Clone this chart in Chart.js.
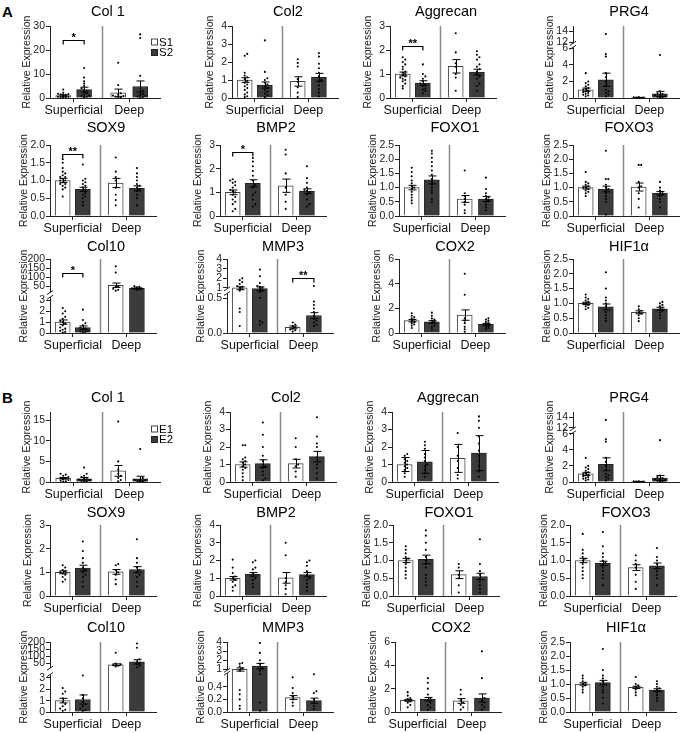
<!DOCTYPE html>
<html>
<head>
<meta charset="utf-8">
<script src="https://cdn.jsdelivr.net/npm/chart.js@4.4.1/dist/chart.umd.min.js"></script>
<style>
  body { margin: 0; background: #fff; }
  #wrap { position: relative; width: 685px; height: 733px; overflow: hidden; font-family: "Liberation Sans", Arial, sans-serif; }
  #wrap canvas { position: absolute; }
  .tag { position: absolute; font-weight: bold; font-size: 15px; color: #000; }
</style>
</head>
<body>
<div id="wrap">
  <div class="tag" style="left:2px;top:3px">A</div>
  <div class="tag" style="left:2px;top:389px">B</div>
</div>
<script>
// ---- data ----
const genes = ['Col 1', 'Col2', 'Aggrecan', 'PRG4', 'SOX9', 'BMP2', 'FOXO1', 'FOXO3', 'Col10', 'MMP3', 'COX2', 'HIF1α'];
const zones = ['Superficial', 'Deep'];
const seriesA = ['S1', 'S2'];
const seriesB = ['E1', 'E2'];

// y tick labels per panel
const ticksA = [
  ['0', '10', '20', '30'], ['0', '1', '2', '3', '4'], ['0', '1', '2', '3'], ['0', '2', '4', '6', '12', '14'],
  ['0.0', '0.5', '1.0', '1.5', '2.0'], ['0', '1', '2', '3'], ['0.0', '0.5', '1.0', '1.5', '2.0', '2.5'], ['0.0', '0.5', '1.0', '1.5', '2.0', '2.5'],
  ['0', '1', '2', '3', '50', '100', '150', '200'], ['0.0', '0.5', '1', '2', '3', '4'], ['0', '2', '4', '6'], ['0.0', '0.5', '1.0', '1.5', '2.0', '2.5']
];
const ticksB = [
  ['0', '5', '10', '15'], ['0', '1', '2', '3', '4'], ['0', '1', '2', '3', '4'], ['0', '2', '4', '6', '12', '14'],
  ['0', '1', '2', '3'], ['0', '1', '2', '3', '4'], ['0.0', '0.5', '1.0', '1.5', '2.0'], ['0.0', '0.5', '1.0', '1.5', '2.0'],
  ['0', '1', '2', '3', '50', '100', '150', '200'], ['0.0', '0.2', '0.4', '1', '2', '3', '4'], ['0', '2', '4', '6'], ['0.0', '0.5', '1.0', '1.5', '2.0', '2.5']
];
const yTopA = [30, 4, 3, 15, 2, 3, 2.5, 2.5, 200, 4, 6, 2.5];
const yTopB = [17, 4, 4, 15, 3, 4, 2, 2, 200, 4, 6, 2.5];

// broken axes: [from, to, fracFrom, fracTo] per segment
const breaksA = {
  3: [[0, 6, 0, 0.69], [12, 15, 0.775, 1]],
  8: [[0, 3.2, 0, 0.47], [20, 200, 0.56, 1]],
  9: [[0, 0.55, 0, 0.52], [1, 4, 0.61, 1]]
};
const breaksB = {
  3: [[0, 6, 0, 0.69], [12, 15, 0.775, 1]],
  8: [[0, 3.2, 0, 0.52], [25, 200, 0.64, 1]],
  9: [[0, 0.6, 0, 0.54], [1, 4, 0.61, 1]]
};

// bar means (S1 sup, S2 sup, S1 deep, S2 deep)
const meansA = [
  [1.0, 3.5, 2.2, 4.8], [1.0, 0.72, 0.92, 1.15], [1.0, 0.62, 1.32, 1.08], [1.0, 2.2, 0.05, 0.5],
  [1.0, 0.75, 0.93, 0.78], [1.0, 1.38, 1.28, 1.05], [1.0, 1.27, 0.6, 0.6], [1.0, 0.95, 1.02, 0.8],
  [1.0, 0.5, 55, 38], [1.0, 0.95, 0.08, 0.25], [1.0, 0.9, 1.45, 0.7], [1.0, 0.88, 0.7, 0.82]
];
const errA = [
  [0.3, 1.0, 1.5, 2.3], [0.13, 0.17, 0.26, 0.22], [0.08, 0.1, 0.28, 0.12], [0.2, 0.8, 0.02, 0.3],
  [0.06, 0.06, 0.13, 0.07], [0.1, 0.15, 0.28, 0.1], [0.08, 0.14, 0.12, 0.09], [0.05, 0.1, 0.14, 0.06],
  [0.2, 0.15, 12, 3], [0.12, 0.15, 0.02, 0.04], [0.1, 0.1, 0.42, 0.08], [0.04, 0.1, 0.05, 0.05]
];
const pointsA = [
  [[0.2, 0.3, 0.4, 0.5, 0.5, 0.6, 0.7, 0.8, 0.8, 0.9, 1.0, 1.1, 1.2, 1.3, 1.5, 1.6, 1.8, 2.2, 3.5],
   [0.3, 0.5, 0.8, 1.0, 1.5, 2.0, 2.5, 3.0, 3.5, 4.0, 5.0, 6.0, 7.0, 8.5, 12.5],
   [0.1, 0.3, 0.5, 0.8, 1.0, 1.5, 2.0, 5.4, 14.7],
   [0.2, 0.4, 0.6, 0.9, 1.2, 1.6, 2.2, 3.0, 9.3, 25, 26.5]],
  [[0.05, 0.1, 0.2, 0.3, 0.45, 0.55, 0.65, 0.75, 0.85, 0.95, 1.05, 1.15, 1.25, 1.4, 2.35, 2.45],
   [0.05, 0.15, 0.25, 0.35, 0.45, 0.55, 0.65, 0.75, 0.85, 1.0, 1.1, 1.45, 3.2],
   [0.05, 0.3, 0.6, 0.9, 1.05, 1.75, 1.95, 2.15],
   [0.1, 0.3, 0.5, 0.7, 0.9, 1.0, 1.2, 1.4, 1.65, 1.9, 2.3, 2.5]],
  [[0.4, 0.5, 0.6, 0.7, 0.75, 0.8, 0.85, 0.9, 0.95, 1.0, 1.05, 1.1, 1.2, 1.3, 1.4, 1.5, 1.6, 1.7],
   [0.2, 0.3, 0.35, 0.4, 0.5, 0.55, 0.6, 0.7, 0.8, 0.9, 1.0, 1.4],
   [0.3, 0.85, 1.0, 1.3, 1.45, 1.9, 2.7],
   [0.3, 0.5, 0.6, 0.8, 0.9, 1.0, 1.1, 1.2, 1.3, 1.4, 1.6, 1.7, 1.8, 1.95]],
  [[0.2, 0.3, 0.4, 0.5, 0.6, 0.7, 0.8, 0.9, 1.0, 1.1, 1.2, 1.4, 1.6, 1.8, 2.0, 3.0],
   [0.2, 0.4, 0.6, 0.8, 1.0, 1.5, 2.0, 2.5, 3.0, 5.0, 5.3, 13.5],
   [0.02, 0.03, 0.05, 0.05, 0.08, 0.1],
   [0.05, 0.1, 0.15, 0.2, 0.3, 0.4, 0.5, 0.6, 0.8, 5.2]],
  [[0.55, 0.75, 0.8, 0.85, 0.9, 0.9, 0.95, 1.0, 1.0, 1.05, 1.1, 1.1, 1.15, 1.2, 1.25, 1.35, 1.5, 1.6],
   [0.3, 0.4, 0.5, 0.55, 0.6, 0.65, 0.7, 0.75, 0.8, 0.85, 0.9, 0.95, 1.0, 1.05, 1.45],
   [0.3, 0.45, 0.6, 0.8, 1.0, 1.1, 1.25, 1.65],
   [0.3, 0.5, 0.6, 0.7, 0.75, 0.8, 0.85, 0.9, 1.0, 1.1, 1.2, 1.35]],
  [[0.2, 0.3, 0.5, 0.6, 0.7, 0.8, 0.9, 1.0, 1.05, 1.1, 1.2, 1.3, 1.4, 1.45, 1.5, 1.55],
   [0.4, 0.5, 0.7, 0.9, 1.0, 1.2, 1.3, 1.5, 1.7, 1.9, 2.1, 2.3, 2.45],
   [0.3, 0.6, 0.9, 1.2, 1.8, 2.6, 2.8],
   [0.4, 0.5, 0.7, 0.9, 1.0, 1.05, 1.1, 1.2, 1.4, 1.6, 2.1]],
  [[0.45, 0.55, 0.65, 0.75, 0.85, 0.95, 1.0, 1.05, 1.15, 1.25, 1.4, 1.55, 1.7],
   [0.5, 0.6, 0.8, 0.9, 1.0, 1.1, 1.2, 1.3, 1.45, 1.6, 1.75, 1.9, 2.05, 2.2, 2.3],
   [0.1, 0.2, 0.4, 0.5, 0.6, 0.7, 0.8, 1.6],
   [0.2, 0.3, 0.4, 0.5, 0.55, 0.6, 0.65, 0.7, 0.8, 0.95, 1.35]],
  [[0.7, 0.8, 0.85, 0.9, 0.95, 1.0, 1.0, 1.05, 1.1, 1.15, 1.2, 1.55],
   [0.05, 0.5, 0.6, 0.7, 0.8, 0.9, 0.95, 1.0, 1.1, 1.3, 1.3, 2.3],
   [0.3, 0.6, 0.8, 1.0, 1.05, 1.2, 1.8, 1.8],
   [0.3, 0.5, 0.6, 0.7, 0.75, 0.8, 0.85, 0.9, 1.0, 1.2]],
  [[0.05, 0.1, 0.2, 0.3, 0.4, 0.5, 0.7, 0.9, 1.0, 1.1, 1.3, 1.5, 1.8, 2.0, 2.3],
   [0.05, 0.1, 0.15, 0.2, 0.3, 0.4, 0.5, 0.7, 0.9, 1.2, 2.15],
   [25, 30, 35, 45, 50, 125, 160],
   [30, 32, 34, 36, 38, 40, 42, 44, 46, 50]],
  [[0.1, 0.3, 0.35, 0.8, 0.9, 1.0, 1.1, 1.2, 1.4, 1.6, 1.8, 2.0],
   [0.12, 0.15, 0.17, 0.5, 0.7, 0.8, 0.9, 1.0, 1.1, 1.2, 1.5, 2.2, 2.9],
   [0.02, 0.04, 0.05, 0.06, 0.08, 0.1, 0.12, 0.15],
   [0.1, 0.12, 0.15, 0.18, 0.2, 0.25, 0.3, 0.35, 0.4, 0.45, 1.2]],
  [[0.4, 0.6, 0.7, 0.8, 0.9, 1.0, 1.1, 1.2, 1.3, 1.4, 1.6],
   [0.3, 0.5, 0.6, 0.8, 0.9, 1.0, 1.1, 1.2, 1.4, 1.65],
   [0.1, 0.3, 0.5, 0.8, 1.0, 1.2, 3.1, 4.8],
   [0.3, 0.4, 0.5, 0.6, 0.7, 0.8, 0.9, 1.0, 1.1, 1.2]],
  [[0.8, 0.85, 0.9, 0.95, 1.0, 1.0, 1.05, 1.1, 1.15, 1.2, 1.3],
   [0.4, 0.5, 0.6, 0.7, 0.8, 0.9, 1.0, 1.1, 1.2, 1.5, 2.05],
   [0.4, 0.5, 0.6, 0.65, 0.7, 0.75, 0.8, 0.9],
   [0.5, 0.6, 0.7, 0.75, 0.8, 0.85, 0.9, 0.95, 1.0, 1.05]]
];

const meansB = [
  [0.9, 0.8, 2.7, 0.8], [1.0, 1.05, 1.05, 1.45], [1.0, 1.15, 1.35, 1.65], [1.0, 2.2, 0.05, 0.5],
  [1.0, 1.18, 1.02, 1.12], [1.0, 1.22, 1.02, 1.2], [1.0, 1.03, 0.6, 0.55], [1.0, 0.92, 0.8, 0.85],
  [1.0, 1.1, 42, 62], [1.0, 1.35, 0.23, 0.18], [1.0, 1.1, 0.95, 1.2], [1.0, 1.05, 0.88, 0.78]
];
const errB = [
  [0.2, 0.3, 1.3, 0.6], [0.15, 0.22, 0.25, 0.3], [0.4, 0.65, 0.8, 1.0], [0.2, 0.8, 0.02, 0.3],
  [0.06, 0.12, 0.1, 0.12], [0.1, 0.1, 0.3, 0.12], [0.06, 0.12, 0.11, 0.09], [0.06, 0.06, 0.08, 0.08],
  [0.2, 0.4, 6, 15], [0.15, 0.3, 0.03, 0.04], [0.08, 0.15, 0.2, 0.35], [0.04, 0.08, 0.04, 0.05]
];
const pointsB = [
  [[0.1, 0.2, 0.3, 0.5, 0.7, 0.9, 1.0, 1.2, 1.5, 1.8, 2.0],
   [0.1, 0.2, 0.3, 0.5, 0.6, 0.8, 1.0, 1.2, 1.5, 2.0, 3.5],
   [0.2, 0.5, 1.0, 1.5, 2.0, 3.0, 5.0, 14.7],
   [0.1, 0.2, 0.3, 0.4, 0.5, 0.6, 1.0, 8.0]],
  [[0.1, 0.3, 0.5, 0.7, 0.8, 0.9, 1.0, 1.1, 1.2, 1.3, 1.4, 2.1, 2.1],
   [0.1, 0.2, 0.4, 0.6, 0.8, 0.9, 1.0, 1.2, 1.5, 2.0, 2.7, 3.4],
   [0.3, 0.6, 0.9, 1.0, 1.3, 2.0, 2.5],
   [0.2, 0.5, 0.8, 1.0, 1.4, 2.0, 2.2, 2.6, 3.7]],
  [[0.3, 0.5, 0.7, 0.8, 0.9, 1.0, 1.1, 1.2, 1.3, 1.5, 1.6],
   [0.3, 0.5, 0.7, 0.9, 1.0, 1.2, 1.4, 1.6, 1.9, 2.1, 2.3],
   [0.2, 0.4, 0.8, 1.2, 1.5, 2.0, 2.8],
   [0.3, 0.6, 0.9, 1.2, 1.5, 1.8, 2.2, 2.6, 3.1, 3.5, 3.75]],
  [[0.2, 0.3, 0.4, 0.5, 0.6, 0.7, 0.8, 0.9, 1.0, 1.1, 1.2, 1.4, 1.6, 1.8, 2.0, 3.0],
   [0.2, 0.4, 0.6, 0.8, 1.0, 1.5, 2.0, 2.5, 3.0, 5.0, 5.3, 13.5],
   [0.02, 0.03, 0.05, 0.05, 0.08, 0.1],
   [0.05, 0.1, 0.15, 0.2, 0.3, 0.4, 0.5, 0.6, 0.8, 5.2]],
  [[0.6, 0.7, 0.8, 0.9, 0.95, 1.0, 1.05, 1.1, 1.2, 1.3],
   [0.4, 0.6, 0.8, 0.9, 1.0, 1.1, 1.2, 1.4, 1.6, 1.9, 2.3],
   [0.5, 0.7, 0.9, 1.0, 1.1, 1.3, 1.35],
   [0.4, 0.6, 0.8, 0.9, 1.0, 1.1, 1.2, 1.4, 1.6, 2.4]],
  [[0.3, 0.5, 0.6, 0.8, 0.9, 1.0, 1.1, 1.3, 1.6, 2.05],
   [0.5, 0.7, 0.9, 1.0, 1.1, 1.3, 1.5, 1.6, 1.9, 2.0],
   [0.1, 0.4, 0.6, 0.8, 1.0, 2.3, 3.0],
   [0.3, 0.5, 0.7, 0.9, 1.0, 1.2, 1.4, 1.7, 1.9, 2.0]],
  [[0.5, 0.6, 0.7, 0.8, 0.9, 1.0, 1.05, 1.1, 1.2, 1.3, 1.4],
   [0.3, 0.4, 0.5, 0.6, 0.8, 0.9, 1.0, 1.1, 1.3, 1.5, 1.7, 1.85],
   [0.1, 0.3, 0.5, 0.6, 0.8, 0.9],
   [0.1, 0.2, 0.3, 0.4, 0.5, 0.6, 0.7, 0.9, 1.6]],
  [[0.5, 0.6, 0.7, 0.8, 0.9, 1.0, 1.05, 1.1, 1.2, 1.3, 1.75],
   [0.3, 0.5, 0.6, 0.7, 0.8, 0.9, 0.95, 1.0, 1.1, 1.2, 1.4, 1.8],
   [0.2, 0.4, 0.6, 0.8, 0.9, 1.0, 1.15],
   [0.3, 0.5, 0.6, 0.7, 0.8, 0.9, 1.0, 1.1, 1.35]],
  [[0.1, 0.2, 0.3, 0.5, 0.7, 0.9, 1.2, 1.6, 1.8, 2.1],
   [0.1, 0.2, 0.3, 0.5, 0.7, 0.9, 1.2, 1.5, 3.4],
   [30, 35, 40, 45, 50, 125],
   [25, 35, 45, 55, 65, 80, 160, 190]],
  [[0.05, 0.1, 0.2, 0.28, 0.35, 0.9, 1.1, 1.3, 1.6, 1.7],
   [0.02, 0.15, 0.6, 0.9, 1.1, 1.3, 1.6, 2.0, 2.8, 3.9],
   [0.1, 0.15, 0.2, 0.25, 0.3, 0.38, 0.55],
   [0.05, 0.1, 0.15, 0.2, 0.3, 0.33, 0.6]],
  [[0.4, 0.6, 0.8, 0.9, 1.0, 1.1, 1.2, 1.4, 1.7],
   [0.2, 0.4, 0.6, 0.8, 1.0, 1.2, 1.5, 2.0, 2.5, 2.9],
   [0.2, 0.4, 0.6, 0.8, 1.0, 1.5, 1.9],
   [0.2, 0.4, 0.6, 0.8, 1.0, 1.2, 2.9, 5.2]],
  [[0.7, 0.8, 0.9, 0.95, 1.0, 1.05, 1.1, 1.2, 1.3],
   [0.3, 0.5, 0.7, 0.8, 0.9, 1.0, 1.1, 1.2, 1.3, 1.5, 2.25],
   [0.6, 0.7, 0.8, 0.85, 0.9, 0.95, 1.0, 1.25],
   [0.4, 0.5, 0.6, 0.7, 0.75, 0.8, 0.85, 0.9, 1.0, 1.1]]
];

// significance brackets: [panel, barFrom, barTo, y value, label]
const sigA = [[0, 0, 1, 24, '*'], [2, 0, 1, 2.15, '**'], [4, 0, 1, 1.75, '**'], [5, 0, 1, 2.7, '*'], [8, 0, 1, 120, '*'], [9, 2, 3, 2.0, '**']];
const sigB = [];

// ---- layout ----
const rowTitleY = [12, 128, 247, 398, 513, 628];
const rowTopY = [26, 145, 259, 412, 525, 642];
const rowBaseY = [98, 216, 333, 482, 596, 712];
const colAxisX = [[50, 232, 390, 573], [50, 220, 399, 573], [50, 227, 399, 573],
                  [50, 230, 392, 573], [50, 220, 393, 570], [50, 227, 395, 570]];
const PLOT_W = 110, AXIS_W = 44, XAXIS_H = 22, LEG_W = 32;
const BAR_X = [1.2, 3.1, 6.2, 8.2];
const SEP_X = 4.7;
const ZONE_X = [2.15, 7.2];
const FILL = ['#ffffff', '#3b3b3b', '#ffffff', '#3b3b3b'];
const EDGE = ['#444', '#222', '#444', '#222'];

Chart.defaults.font.family = '"Liberation Sans", Arial, sans-serif';

const makeMap = segs => v => {
  for (let i = 0; i < segs.length; i++) {
    const [a, b, p, q] = segs[i];
    if (v <= b || i === segs.length - 1) {
      if (v < a && i > 0) {
        const pv = segs[i - 1];
        return pv[3] + (v - pv[1]) / (a - pv[1]) * (p - pv[3]);
      }
      return p + (v - a) / (b - a) * (q - p);
    }
  }
};

// spread points sideways so they do not sit on each other
function swarm(vals, toPx) {
  const placed = [];
  const off = vals.map(() => 0);
  vals.map((v, i) => i).sort((i, j) => vals[i] - vals[j]).forEach(i => {
    const py = toPx(vals[i]);
    for (let k = 0; k < 5; k++) {
      const dx = (k % 2 ? 1 : -1) * Math.ceil(k / 2) * 2.6;
      if (!placed.some(p => Math.hypot(p[0] - dx, p[1] - py) < 2.4)) { off[i] = dx; break; }
      if (k === 4) off[i] = 0;
    }
    placed.push([off[i], py]);
  });
  return off;
}

function makePanel(r, c, g, part) {
  const isA = part === 'A';
  const labels = (isA ? ticksA : ticksB)[g];
  const segs = (isA ? breaksA : breaksB)[g] || [[0, (isA ? yTopA : yTopB)[g], 0, 1]];
  const broken = !!(isA ? breaksA : breaksB)[g];
  const map = makeMap(segs);
  const means = (isA ? meansA : meansB)[g];
  const errs = (isA ? errA : errB)[g];
  const pts = (isA ? pointsA : pointsB)[g];
  const sigs = (isA ? sigA : sigB).filter(s => s[0] === g);
  const legend = c === 0 && g === 0 ? (isA ? seriesA : seriesB) : null;

  const axisX = colAxisX[r][c];
  const left = axisX - AXIS_W;
  const top = rowTitleY[r] - 11;
  const padTop = rowTopY[r] - top;
  const plotH = rowBaseY[r] - rowTopY[r];
  const padRight = legend ? LEG_W : 0;
  const w = AXIS_W + PLOT_W + padRight;
  const h = rowBaseY[r] - top + XAXIS_H;
  const unitPx = PLOT_W / 10;

  const cv = document.createElement('canvas');
  cv.width = w; cv.height = h;
  cv.style.left = left + 'px'; cv.style.top = top + 'px';
  document.getElementById('wrap').appendChild(cv);

  const scatter = [];
  pts.forEach((vals, i) => {
    const dx = swarm(vals, v => map(v) * plotH);
    vals.forEach((v, j) => scatter.push({ x: BAR_X[i] + dx[j] / unitPx, y: map(v) }));
  });
  const bars = means.map((m, i) => ({ x: BAR_X[i], y: map(m) }));
  const maxChars = Math.max(...labels.map(t => t.length));
  const titlePad = maxChars >= 3 ? 12 : (maxChars === 2 ? 15 : 16);

  const decor = {
    id: 'decor',
    afterDatasetsDraw(chart) {
      const { ctx, chartArea: a, scales: { x, y } } = chart;
      ctx.save();
      // zone separator
      ctx.strokeStyle = '#8a8a8a';
      ctx.lineWidth = 1.5;
      const sx = Math.round(x.getPixelForValue(SEP_X)) + 0.5;
      ctx.beginPath(); ctx.moveTo(sx, a.top); ctx.lineTo(sx, a.bottom); ctx.stroke();
      // error bars
      ctx.strokeStyle = '#000';
      ctx.lineWidth = 1;
      means.forEach((m, i) => {
        const px = Math.round(x.getPixelForValue(BAR_X[i])) + 0.5;
        const y1 = y.getPixelForValue(map(m + errs[i]));
        const y0 = y.getPixelForValue(map(Math.max(m - errs[i], 0)));
        ctx.beginPath();
        ctx.moveTo(px, y0); ctx.lineTo(px, y1);
        ctx.moveTo(px - 4, y1); ctx.lineTo(px + 4, y1);
        ctx.moveTo(px - 4, y0); ctx.lineTo(px + 4, y0);
        ctx.stroke();
      });
      // significance
      sigs.forEach(([, i0, i1, v, txt]) => {
        const x0 = x.getPixelForValue(BAR_X[i0]), x1 = x.getPixelForValue(BAR_X[i1]);
        const yy = Math.round(y.getPixelForValue(map(v))) + 0.5;
        ctx.lineWidth = 1.2;
        ctx.beginPath();
        ctx.moveTo(x0, yy + 4); ctx.lineTo(x0, yy); ctx.lineTo(x1, yy); ctx.lineTo(x1, yy + 4);
        ctx.stroke();
        ctx.fillStyle = '#000';
        ctx.font = 'bold 11px "Liberation Sans", Arial';
        ctx.textAlign = 'center'; ctx.textBaseline = 'bottom';
        ctx.fillText(txt, (x0 + x1) / 2, yy + 3);
      });
      // axis break
      if (broken) {
        const yb = y.getPixelForValue(segs[0][3]);
        const yt = y.getPixelForValue(segs[1][2]);
        const ax = a.left;
        ctx.fillStyle = '#fff';
        ctx.fillRect(ax - 3, yt + 1, 6, yb - yt - 2);
        ctx.strokeStyle = '#222'; ctx.lineWidth = 1;
        ctx.beginPath();
        ctx.moveTo(ax - 3, yb + 1); ctx.lineTo(ax + 3, yb - 3);
        ctx.moveTo(ax - 3, yt + 3); ctx.lineTo(ax + 3, yt - 1);
        ctx.stroke();
      }
      // title
      ctx.fillStyle = '#000';
      ctx.font = '14.5px "Liberation Sans", Arial';
      ctx.textAlign = 'center'; ctx.textBaseline = 'middle';
      ctx.fillText(genes[g], (a.left + a.right) / 2 + 3, 11);
      // legend
      if (legend) {
        legend.forEach((name, i) => {
          const ly = a.top + (isA ? 16 : 17) + i * 10.5;
          const lx = a.left + 101;
          ctx.fillStyle = FILL[i]; ctx.strokeStyle = EDGE[i]; ctx.lineWidth = 1;
          ctx.fillRect(lx, ly - 3.5, 7, 7); ctx.strokeRect(lx + 0.5, ly - 3, 6, 6);
          ctx.fillStyle = '#000';
          ctx.font = '11.5px "Liberation Sans", Arial';
          ctx.textAlign = 'left'; ctx.textBaseline = 'middle';
          ctx.fillText(name, lx + 8, ly + 0.5);
        });
      }
      ctx.restore();
    }
  };

  new Chart(cv, {
    type: 'bar',
    data: {
      datasets: [
        { type: 'scatter', data: scatter, pointRadius: 1.05, pointBackgroundColor: '#000', pointBorderWidth: 0, order: 0 },
        { type: 'bar', data: bars, backgroundColor: FILL, borderColor: EDGE, borderWidth: 1, barThickness: 15, order: 1 }
      ]
    },
    options: {
      responsive: false,
      animation: false,
      events: [],
      layout: { padding: { top: padTop, right: padRight, left: 0, bottom: 0 } },
      plugins: { legend: { display: false }, tooltip: { enabled: false } },
      scales: {
        x: {
          type: 'linear', min: 0, max: 10, offset: false,
          border: { color: '#222', width: 1 },
          grid: { drawOnChartArea: false, offset: false, tickLength: 4, color: '#222' },
          ticks: { font: { size: 12.5 }, color: '#111', padding: 1, maxRotation: 0, autoSkip: false, callback: (v, i) => zones[i] },
          afterBuildTicks: s => { s.ticks = ZONE_X.map(v => ({ value: v })); },
          afterFit: s => { s.height = XAXIS_H; }
        },
        y: {
          type: 'linear', min: 0, max: 1, offset: false,
          border: { color: '#222', width: 1 },
          grid: { drawOnChartArea: false, tickLength: 4, color: '#222' },
          ticks: { font: { size: 10.5 }, color: '#222', padding: 1, autoSkip: false, callback: (v, i) => labels[i] },
          afterBuildTicks: s => { s.ticks = labels.map(t => ({ value: map(parseFloat(t)) })); },
          title: { display: true, text: 'Relative Expression', font: { size: 10.5 }, color: '#222', padding: { top: titlePad, bottom: 0 } },
          afterFit: s => { s.width = AXIS_W; }
        }
      }
    },
    plugins: [decor]
  });
}

['A', 'B'].forEach((part, p) => {
  for (let g = 0; g < 12; g++) {
    makePanel(p * 3 + Math.floor(g / 4), g % 4, g, part);
  }
});
</script>
</body>
</html>
